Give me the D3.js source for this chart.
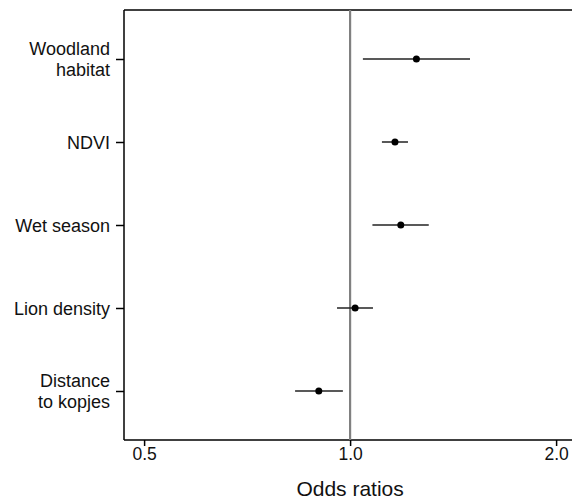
<!DOCTYPE html>
<html>
<head>
<meta charset="utf-8">
<script src="https://cdn.jsdelivr.net/npm/d3@7"></script>
<style>
  body { margin: 0; background: #fff; }
  svg { display: block; font-family: "Liberation Sans", Arial, sans-serif; }
</style>
</head>
<body>
<svg></svg>
<script>
// Variables del modelo (de arriba a abajo)
var labels = [["Woodland", "habitat"], ["NDVI"], ["Wet season"], ["Lion density"], ["Distance", "to kopjes"]];
// Odds ratios estimados e intervalos de confianza
var estimates = [1.25, 1.163, 1.186, 1.017, 0.900];
var lower = [1.044, 1.113, 1.078, 0.957, 0.831];
var upper = [1.497, 1.215, 1.303, 1.080, 0.976];
var xTicks = [0.5, 1.0, 2.0];

var data = labels.map(function(l, i) {
    return { label: l, key: i, est: estimates[i], lo: lower[i], hi: upper[i] };
});

var svgWidth = 572, svgHeight = 500;
var plotLeft = 124, plotTop = 10, plotBottom = 440;

var svg = d3.select("svg")
    .attr("width", svgWidth)
    .attr("height", svgHeight);

// Escala logarítmica para los odds ratios (~206 px por duplicación)
var xMin = 0.4673, xMax = 2.2;
var x = d3.scaleLog()
    .domain([xMin, xMax])
    .range([plotLeft, plotLeft + 206 * Math.log2(xMax / xMin)]);

var y = d3.scalePoint()
    .domain(data.map(function(d) { return d.key; }))
    .range([59, 391]);

// Borde superior del panel
svg.append("line")
    .attr("x1", plotLeft).attr("x2", svgWidth)
    .attr("y1", plotTop).attr("y2", plotTop)
    .attr("stroke", "#000").attr("stroke-width", 1.5);

// Eje X
var gx = svg.append("g")
    .attr("transform", "translate(0," + plotBottom + ")")
    .call(d3.axisBottom(x).tickValues(xTicks).tickFormat(d3.format(".1f")).tickSizeOuter(0).tickSize(6).tickPadding(2));
gx.select(".domain").attr("stroke-width", 1.5).attr("d", "M" + plotLeft + ",0H" + svgWidth);
gx.selectAll(".tick line").attr("stroke-width", 1.5);
gx.selectAll(".tick text").attr("font-size", 17.5).attr("fill", "#111").attr("font-family", null);

// Eje Y
var gy = svg.append("g")
    .attr("transform", "translate(" + plotLeft + ",0)")
    .call(d3.axisLeft(y).tickSize(8).tickSizeOuter(0).tickFormat(""));
gy.select(".domain").attr("stroke-width", 1.5).attr("d", "M0," + plotTop + "V" + plotBottom);
gy.selectAll(".tick line").attr("stroke-width", 1.5);

// Etiquetas de varias líneas
gy.selectAll(".tick").each(function(k) {
    var lines = data[k].label;
    var t = d3.select(this).append("text")
        .attr("x", -14)
        .attr("text-anchor", "end")
        .attr("fill", "#111")
        .attr("font-size", 18);
    lines.forEach(function(s, j) {
        t.append("tspan")
            .attr("x", -14)
            .attr("y", (j - (lines.length - 1) / 2) * 21)
            .attr("dy", "0.35em")
            .text(s);
    });
});

// Línea de referencia en OR = 1
svg.append("line")
    .attr("x1", x(1)).attr("x2", x(1))
    .attr("y1", plotTop).attr("y2", plotBottom)
    .attr("stroke", "#808080").attr("stroke-width", 2.2);

// Intervalos de confianza
svg.selectAll(".ci")
    .data(data)
    .enter().append("line")
    .attr("class", "ci")
    .attr("x1", function(d) { return x(d.lo); })
    .attr("x2", function(d) { return x(d.hi); })
    .attr("y1", function(d) { return y(d.key); })
    .attr("y2", function(d) { return y(d.key); })
    .attr("stroke", "#222").attr("stroke-width", 1.5);

// Puntos estimados
svg.selectAll(".pt")
    .data(data)
    .enter().append("circle")
    .attr("class", "pt")
    .attr("cx", function(d) { return x(d.est); })
    .attr("cy", function(d) { return y(d.key); })
    .attr("r", 3.5)
    .attr("fill", "#000");

// Título del eje X
svg.append("text")
    .attr("x", x(1))
    .attr("y", 496)
    .attr("text-anchor", "middle")
    .attr("font-size", 21)
    .attr("fill", "#111")
    .text("Odds ratios");
</script>
</body>
</html>
